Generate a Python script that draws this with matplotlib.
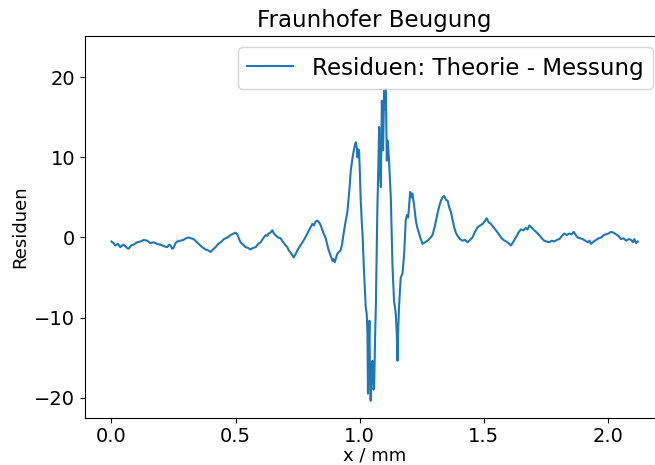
import numpy as np
import matplotlib.pyplot as plt

# Residuals (x in mm)
x_left = [0.000, 0.008, 0.016, 0.026, 0.036, 0.046, 0.056, 0.062, 0.069, 0.079,
          0.089, 0.103, 0.117, 0.130, 0.144, 0.156, 0.169, 0.184, 0.198, 0.212,
          0.225, 0.232, 0.238, 0.244, 0.250, 0.258, 0.265, 0.278, 0.290, 0.300,
          0.310, 0.320, 0.331, 0.341, 0.351, 0.365, 0.379, 0.389, 0.399, 0.409,
          0.419, 0.430, 0.440, 0.453, 0.467, 0.480, 0.492, 0.500, 0.507, 0.514,
          0.520, 0.530, 0.540, 0.550, 0.560, 0.570, 0.581, 0.591, 0.601, 0.611,
          0.621, 0.627, 0.633, 0.640, 0.648, 0.654, 0.661, 0.671, 0.681, 0.692,
          0.702, 0.708, 0.714, 0.724, 0.734, 0.741, 0.749, 0.759, 0.769, 0.779,
          0.789, 0.799, 0.809, 0.815, 0.822, 0.829, 0.836, 0.843, 0.853, 0.863,
          0.869, 0.875, 0.882, 0.890, 0.895, 0.899, 0.905, 0.910, 0.916, 0.923,
          0.929]
res_left = [-0.5, -0.7, -1.0, -0.8, -1.2, -0.9, -1.1, -1.3, -1.4, -1.0,
            -0.9, -0.6, -0.5, -0.3, -0.4, -0.7, -0.6, -0.8, -0.9, -1.1,
            -1.2, -0.9, -1.0, -1.4, -1.3, -0.7, -0.5, -0.4, -0.3, -0.1,
            0.0, -0.1, -0.2, -0.5, -0.8, -1.2, -1.5, -1.6, -1.8, -1.5,
            -1.2, -0.8, -0.6, -0.2, 0.0, 0.3, 0.5, 0.6, 0.4, -0.2,
            -0.6, -0.9, -1.2, -1.3, -1.5, -1.3, -1.2, -0.8, -0.6, -0.1,
            0.3, 0.2, 0.5, 0.6, 0.9, 0.5, 0.3, 0.0, -0.1, -0.6,
            -1.0, -1.2, -1.6, -2.0, -2.5, -2.1, -1.6, -1.1, -0.6, -0.1,
            0.5, 1.1, 1.7, 1.5, 2.0, 2.1, 1.9, 1.5, 0.6, -0.1,
            -0.9, -1.6, -2.2, -2.9, -2.7, -3.1, -2.5, -2.0, -1.8, -1.6,
            -0.8]

x_mid = [0.935, 0.942, 0.950, 0.957, 0.964, 0.970, 0.976, 0.980, 0.984, 0.988,
         0.991, 0.994, 0.997, 1.000, 1.004, 1.008, 1.011, 1.017, 1.024, 1.028,
         1.031, 1.033, 1.036, 1.039, 1.041, 1.044, 1.047, 1.051, 1.055, 1.058,
         1.062, 1.065, 1.071, 1.075, 1.078, 1.082, 1.085, 1.089, 1.094, 1.098,
         1.102, 1.105, 1.109, 1.112, 1.115, 1.118, 1.125, 1.132, 1.138, 1.145,
         1.149, 1.152, 1.155, 1.158, 1.165, 1.172, 1.179, 1.185, 1.190, 1.195,
         1.203, 1.208, 1.212, 1.219, 1.226, 1.232, 1.239, 1.246, 1.253]
res_mid = [0.5, 1.8, 3.2, 5.5, 8.4, 9.8, 10.9, 11.5, 11.9, 11.2,
           10.0, 11.0, 10.9, 8.5, 4.6, 2.0, 0.5, -4.1, -8.7, -9.5,
           -12.0, -19.5, -14.0, -10.4, -17.0, -20.4, -16.0, -15.4, -19.0, -18.7,
           -12.0, -8.3, 3.8, 9.0, 13.8, 8.0, 6.3, 17.1, 10.9, 18.4,
           16.0, 18.6, 9.6, 12.1, 11.0, 9.6, 5.0, -3.7, -7.9, -9.5,
           -12.0, -15.4, -11.5, -8.7, -5.0, -4.5, -2.0, 2.1, 2.8, 2.5,
           5.7, 5.0, 5.5, 4.0, 2.1, 1.2, 0.5, -0.2, -0.8]

x_right = [1.263, 1.273, 1.283, 1.293, 1.303, 1.313, 1.320, 1.327, 1.333, 1.340,
           1.347, 1.354, 1.360, 1.367, 1.374, 1.380, 1.387, 1.394, 1.404, 1.414,
           1.424, 1.434, 1.444, 1.454, 1.464, 1.475, 1.485, 1.495, 1.503, 1.511,
           1.519, 1.528, 1.538, 1.548, 1.558, 1.569, 1.579, 1.589, 1.599, 1.609,
           1.619, 1.629, 1.639, 1.649, 1.659, 1.669, 1.676, 1.683, 1.693, 1.703,
           1.713, 1.723, 1.733, 1.743, 1.753, 1.763, 1.773, 1.783, 1.794, 1.804,
           1.814, 1.824, 1.834, 1.844, 1.853, 1.862, 1.870, 1.878, 1.888, 1.898,
           1.908, 1.918, 1.925, 1.931, 1.942, 1.952, 1.962, 1.972, 1.982, 1.992,
           2.002, 2.012, 2.022, 2.032, 2.042, 2.052, 2.062, 2.073, 2.083, 2.093,
           2.100, 2.106, 2.113, 2.120]
res_right = [-0.6, -0.4, -0.1, 0.3, 1.5, 3.0, 3.9, 4.6, 5.0, 5.2,
             4.7, 4.6, 3.8, 3.2, 2.2, 1.3, 0.6, 0.2, -0.2, -0.4,
             -0.3, -0.6, -0.3, 0.0, 0.7, 1.3, 1.5, 1.7, 2.0, 2.4,
             1.9, 1.7, 1.3, 0.9, 0.5, 0.0, -0.3, -0.5, -0.7, -1.0,
             -0.5, 0.0, 0.6, 1.0, 0.9, 1.2, 1.0, 1.5, 1.2, 0.9,
             0.6, 0.3, -0.1, -0.4, -0.5, -0.6, -0.4, -0.5, -0.3, -0.2,
             0.2, 0.5, 0.3, 0.5, 0.4, 0.7, 0.3, 0.0, -0.1, -0.2,
             -0.4, -0.6, -0.4, -0.8, -0.5, -0.3, -0.1, 0.0, 0.3, 0.4,
             0.5, 0.7, 0.6, 0.4, 0.2, -0.2, -0.1, -0.4, -0.2, -0.3,
             -0.6, -0.2, -0.7, -0.5]

x_mm = np.array(x_left + x_mid + x_right)
residuen = np.array(res_left + res_mid + res_right)

fig = plt.figure(figsize=(6.55, 4.65), dpi=100)
# right edge of the axes runs past the figure, as in the original
ax = fig.add_axes([0.130, 0.102, 0.884, 0.821])

ax.plot(x_mm, residuen, label='Residuen: Theorie - Messung')
ax.set_ylim(-22.5, 25.2)
ax.set_title('Fraunhofer Beugung', fontsize=16.5)
ax.set_xlabel('x / mm', fontsize=13, labelpad=0.5)
ax.set_ylabel('Residuen', fontsize=13)
ax.tick_params(labelsize=14)
ax.legend(loc='upper right', fontsize=16.6)

fig.savefig('out.png', dpi=100)
